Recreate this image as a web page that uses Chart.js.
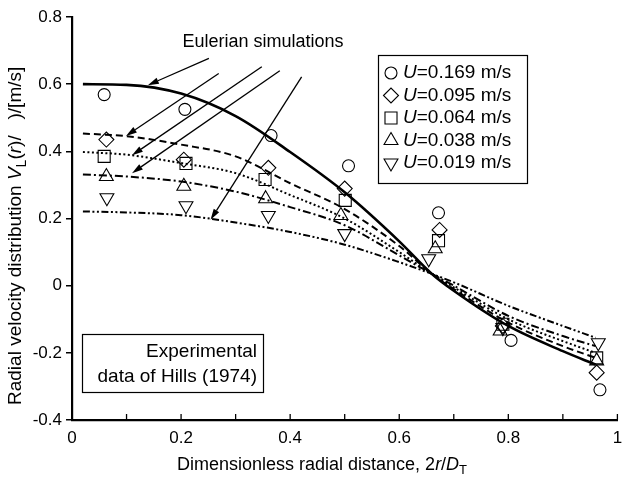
<!DOCTYPE html>
<html>
<head>
<meta charset="utf-8">
<script src="https://cdn.jsdelivr.net/npm/chart.js@4"></script>
<style>
  html, body { margin: 0; padding: 0; background: #fff; }
</style>
</head>
<body>
<canvas id="demo" width="627" height="481"></canvas>
<script>
// Eulerian simulation curves
const curveX = [0.02, 0.1, 0.2, 0.3, 0.4, 0.5, 0.6, 0.66, 0.7, 0.8, 0.9, 0.96];
const simU169 = [0.600, 0.598, 0.572, 0.505, 0.398, 0.278, 0.132, 0.035, -0.015, -0.12, -0.195, -0.235];
const simU095 = [0.453, 0.445, 0.420, 0.385, 0.305, 0.228, 0.118, 0.035, -0.010, -0.11, -0.180, -0.215];
const simU064 = [0.398, 0.390, 0.365, 0.335, 0.270, 0.200, 0.100, 0.035, -0.005, -0.10, -0.165, -0.200];
const simU038 = [0.331, 0.325, 0.310, 0.280, 0.234, 0.180, 0.090, 0.035, 0.000, -0.09, -0.150, -0.180];
const simU019 = [0.221, 0.218, 0.210, 0.188, 0.160, 0.122, 0.070, 0.035, 0.010, -0.06, -0.120, -0.155];

// experimental data of Hills (1974)
const expX169 = [0.059, 0.207, 0.365, 0.507, 0.672, 0.805, 0.968];
const expY169 = [0.569, 0.525, 0.447, 0.357, 0.217, -0.163, -0.310];
const expX095 = [0.063, 0.205, 0.360, 0.500, 0.674, 0.790, 0.962];
const expY095 = [0.435, 0.375, 0.351, 0.289, 0.166, -0.120, -0.259];
const expX064 = [0.059, 0.209, 0.354, 0.501, 0.672, 0.790, 0.962];
const expY064 = [0.385, 0.364, 0.316, 0.254, 0.134, -0.115, -0.215];
const expX038 = [0.063, 0.205, 0.355, 0.493, 0.666, 0.785, 0.962];
const expY038 = [0.325, 0.296, 0.259, 0.209, 0.110, -0.135, -0.224];
const expX019 = [0.064, 0.209, 0.360, 0.500, 0.654, 0.790, 0.965];
const expY019 = [0.262, 0.238, 0.209, 0.155, 0.080, -0.125, -0.170];

const speeds = ["0.169", "0.095", "0.064", "0.038", "0.019"];
const xTicks = [0, 0.2, 0.4, 0.6, 0.8, 1];
const yTicks = [-0.4, -0.2, 0, 0.2, 0.4, 0.6, 0.8];

// arrows from the "Eulerian simulations" note to each curve, in data units [tailX, tailY, headX, headY]
const arrows = [
  [0.251, 0.677, 0.139, 0.597],
  [0.269, 0.632, 0.099, 0.446],
  [0.348, 0.652, 0.110, 0.388],
  [0.381, 0.640, 0.110, 0.335],
  [0.421, 0.622, 0.254, 0.196],
];

const FONT = '"Liberation Sans", Arial, Helvetica, sans-serif';
const sims = [simU169, simU095, simU064, simU038, simU019];
const expXs = [expX169, expX095, expX064, expX038, expX019];
const expYs = [expY169, expY095, expY064, expY038, expY019];
const dashes = [[], [7, 4], [2, 2.5], [8, 3, 2, 3], [7, 2.5, 2, 2.5, 2, 2.5]];
const widths = [2.6, 2, 2, 2, 2];
const markers = [
  { style: "circle", r: 6, rot: 0 },
  { style: "rectRot", r: 7.5, rot: 0 },
  { style: "rect", r: 8.5, rot: 0 },
  { style: "triangle", r: 8, rot: 0 },
  { style: "triangle", r: 8, rot: 180 },
];

const zip = (xs, ys) => xs.map((x, i) => ({ x: x, y: ys[i] }));

const datasets = [];
sims.forEach((s, i) => {
  datasets.push({
    data: zip(curveX, s),
    showLine: true,
    borderColor: "#000",
    borderWidth: widths[i],
    borderDash: dashes[i],
    pointRadius: 0,
    cubicInterpolationMode: "monotone",
    fill: false,
  });
});
expXs.forEach((xs, i) => {
  datasets.push({
    data: zip(xs, expYs[i]),
    showLine: false,
    pointStyle: markers[i].style,
    pointRadius: markers[i].r,
    pointRotation: markers[i].rot,
    pointBorderColor: "#000",
    pointBackgroundColor: "rgba(0,0,0,0)",
    pointBorderWidth: 1.1,
  });
});

function fontOf(p, size) {
  return (p.it ? "italic " : "") + (p.sub ? Math.round(size * 0.72) : size) + "px " + FONT;
}
function drawRich(ctx, parts, x, y, align, size) {
  let total = 0;
  parts.forEach(p => { ctx.font = fontOf(p, size); total += ctx.measureText(p.t).width; });
  let cx = align === "center" ? x - total / 2 : align === "right" ? x - total : x;
  ctx.textAlign = "left";
  ctx.textBaseline = "middle";
  parts.forEach(p => {
    ctx.font = fontOf(p, size);
    ctx.fillText(p.t, cx, y + (p.sub ? size * 0.3 : 0));
    cx += ctx.measureText(p.t).width;
  });
}

const decor = {
  id: "decor",
  afterDraw(chart) {
    const ctx = chart.ctx;
    const xs = chart.scales.x, ys = chart.scales.y;
    const area = chart.chartArea;
    ctx.save();
    ctx.fillStyle = "#000";
    ctx.strokeStyle = "#000";

    // inward minor ticks on the x axis
    ctx.lineWidth = 1.3;
    for (let k = 1; k <= 10; k++) {
      const px = xs.getPixelForValue(k / 10);
      ctx.beginPath();
      ctx.moveTo(px, area.bottom);
      ctx.lineTo(px, area.bottom - 6);
      ctx.stroke();
    }

    // axis titles
    drawRich(ctx, [
      { t: "Dimensionless radial distance, 2" },
      { t: "r", it: true },
      { t: "/" },
      { t: "D", it: true },
      { t: "T", sub: true },
    ], 177, 465, "left", 18);

    ctx.save();
    ctx.translate(16, 405);
    ctx.rotate(-Math.PI / 2);
    drawRich(ctx, [
      { t: "Radial velocity distribution " },
      { t: "V", it: true },
      { t: "L", sub: true },
      { t: "(" },
      { t: "r", it: true },
      { t: ")/   )/[m/s]" },
    ], 0, 0, "left", 19);
    ctx.restore();

    // Eulerian simulations note with arrows
    drawRich(ctx, [{ t: "Eulerian simulations" }], 263, 42, "center", 18);
    ctx.lineWidth = 1.3;
    arrows.forEach(a => {
      const x1 = xs.getPixelForValue(a[0]), y1 = ys.getPixelForValue(a[1]);
      const x2 = xs.getPixelForValue(a[2]), y2 = ys.getPixelForValue(a[3]);
      const ang = Math.atan2(y2 - y1, x2 - x1);
      const hl = 11, hw = 3.2;
      const bx = x2 - hl * Math.cos(ang), by = y2 - hl * Math.sin(ang);
      ctx.beginPath();
      ctx.moveTo(x1, y1);
      ctx.lineTo(bx, by);
      ctx.stroke();
      ctx.beginPath();
      ctx.moveTo(x2, y2);
      ctx.lineTo(bx + hw * Math.sin(ang), by - hw * Math.cos(ang));
      ctx.lineTo(bx - hw * Math.sin(ang), by + hw * Math.cos(ang));
      ctx.closePath();
      ctx.fill();
    });

    // legend box
    ctx.lineWidth = 1.2;
    ctx.strokeRect(378.5, 55.5, 149, 128);
    speeds.forEach((s, i) => {
      const ly = 73 + i * 22.5;
      ctx.save();
      ctx.lineWidth = 1.1;
      ctx.fillStyle = "rgba(0,0,0,0)";
      Chart.helpers.drawPoint(ctx, {
        pointStyle: markers[i].style,
        radius: markers[i].r,
        rotation: markers[i].rot,
        borderWidth: 1.1,
      }, 391, ly);
      ctx.restore();
      drawRich(ctx, [{ t: "U", it: true }, { t: "=" + s + " m/s" }], 403, ly, "left", 19);
    });

    // experimental data note
    ctx.lineWidth = 1.2;
    ctx.strokeRect(82.5, 334.5, 181, 58);
    drawRich(ctx, [{ t: "Experimental" }], 257, 352, "right", 19);
    drawRich(ctx, [{ t: "data of Hills (1974)" }], 257, 377, "right", 19);

    ctx.restore();
  },
};

const ctx = document.getElementById("demo").getContext("2d");
new Chart(ctx, {
  type: "scatter",
  data: { datasets: datasets },
  options: {
    responsive: false,
    animation: false,
    layout: { padding: { top: 17, right: 2, left: 0, bottom: 0 } },
    plugins: { legend: { display: false }, tooltip: { enabled: false } },
    scales: {
      x: {
        type: "linear",
        min: 0,
        max: 1,
        afterFit: s => { s.height = 61; s.paddingLeft = 0; s.paddingRight = 0; },
        afterBuildTicks: s => { s.ticks = xTicks.map(v => ({ value: v })); },
        ticks: {
          color: "#000",
          font: { family: FONT, size: 17 },
          padding: 8,
          maxRotation: 0,
          callback: v => String(Math.round(v * 10) / 10),
        },
        grid: { drawOnChartArea: false, drawTicks: false },
        border: { color: "#000", width: 2.2 },
      },
      y: {
        type: "linear",
        min: -0.4,
        max: 0.8,
        afterFit: s => { s.width = 72; s.paddingTop = 0; s.paddingBottom = 0; },
        afterBuildTicks: s => { s.ticks = yTicks.map(v => ({ value: v })); },
        ticks: {
          color: "#000",
          font: { family: FONT, size: 17 },
          padding: 4,
          callback: v => String(Math.round(v * 10) / 10),
        },
        grid: { drawOnChartArea: false, drawTicks: true, tickLength: 6, color: "#000", lineWidth: 1.5 },
        border: { color: "#000", width: 2.2 },
      },
    },
  },
  plugins: [decor],
});
</script>
</body>
</html>
